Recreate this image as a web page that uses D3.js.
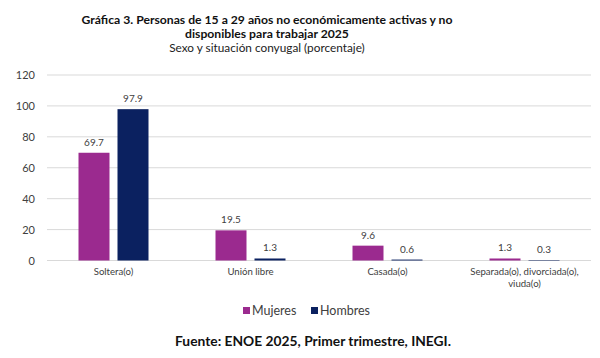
<!DOCTYPE html>
<html><head><meta charset="utf-8">
<script src="https://cdn.jsdelivr.net/npm/d3@7"></script>
<style>body{margin:0;background:#fff}svg{display:block}</style>
</head><body>
<svg id="c" width="600" height="358"></svg>
<script>
const categories = ["Soltera(o)", "Unión libre", "Casada(o)", "Separada(o), divorciada(o), viuda(o)"];
const categoryLines = [["Soltera(o)"], ["Unión libre"], ["Casada(o)"], ["Separada(o), divorciada(o),", "viuda(o)"]];
const seriesNames = ["Mujeres", "Hombres"];
const mujeres = [69.7, 19.5, 9.6, 1.3];
const hombres = [97.9, 1.3, 0.6, 0.3];
const yTicks = [0, 20, 40, 60, 80, 100, 120];
const colors = ["#9B2A8F", "#0B2160"];

const svg = d3.select("#c");
const font = "Lato, 'Open Sans', sans-serif";
const x = d3.scaleBand().domain(categories).range([45, 593]);
const y = d3.scaleLinear().domain([0, 120]).range([260.5, 75]);
const barW = 31, gap = 8;
const tcx = 267;

// title
svg.append("text").attr("x", tcx).attr("y", 24).attr("text-anchor", "middle")
  .attr("font-family", font).attr("font-weight", "bold").attr("font-size", 12.2).attr("fill", "#111")
  .text("Gráfica 3. Personas de 15 a 29 años no económicamente activas y no");
svg.append("text").attr("x", tcx).attr("y", 37.5).attr("text-anchor", "middle")
  .attr("font-family", font).attr("font-weight", "bold").attr("font-size", 12.2).attr("fill", "#111")
  .text("disponibles para trabajar 2025");
svg.append("text").attr("x", tcx).attr("y", 52).attr("text-anchor", "middle")
  .attr("font-family", font).attr("font-size", 11.8).attr("fill", "#222")
  .text("Sexo y situación conyugal (porcentaje)");

// grid
svg.append("g").selectAll("line").data(yTicks).join("line")
  .attr("x1", 47).attr("x2", 591).attr("y1", d => y(d)).attr("y2", d => y(d))
  .attr("stroke", "#d9d9d9").attr("stroke-width", 1);
svg.append("g").selectAll("text").data(yTicks).join("text")
  .attr("x", 35).attr("y", d => y(d) + 4).attr("text-anchor", "end")
  .attr("font-family", font).attr("font-size", 11).attr("fill", "#404040").text(d => d);

const series = [mujeres, hombres];
series.forEach((vals, si) => {
  const off = si === 0 ? -gap/2 - barW : gap/2;
  const g = svg.append("g");
  g.selectAll("rect").data(vals).join("rect")
    .attr("x", (d, i) => x(categories[i]) + x.bandwidth()/2 + off)
    .attr("y", d => y(d)).attr("width", barW).attr("height", d => y(0) - y(d))
    .attr("fill", colors[si]);
  g.selectAll("text").data(vals).join("text")
    .attr("x", (d, i) => x(categories[i]) + x.bandwidth()/2 + off + barW/2)
    .attr("y", d => y(d) - 7).attr("text-anchor", "middle")
    .attr("font-family", font).attr("font-size", 10).attr("fill", "#404040")
    .text(d => d.toFixed(1));
});

// category labels
categories.forEach((c, i) => {
  const t = svg.append("text").attr("x", x(c) + x.bandwidth()/2).attr("y", 275)
    .attr("text-anchor", "middle").attr("font-family", font).attr("font-size", 9.6).attr("fill", "#404040");
  categoryLines[i].forEach((l, j) => t.append("tspan").attr("x", x(c) + x.bandwidth()/2).attr("dy", j ? 12 : 0).text(l));
});

// legend
const leg = [[243, 252], [311, 320]];
seriesNames.forEach((n, i) => {
  svg.append("rect").attr("x", leg[i][0]).attr("y", 307).attr("width", 7).attr("height", 7).attr("fill", colors[i]);
  svg.append("text").attr("x", leg[i][1]).attr("y", 315).attr("font-family", font).attr("font-size", 12.5)
    .attr("fill", "#404040").text(n);
});

// source
svg.append("text").attr("x", 313).attr("y", 346).attr("text-anchor", "middle")
  .attr("font-family", font).attr("font-weight", "bold").attr("font-size", 13.8).attr("fill", "#111")
  .text("Fuente: ENOE 2025, Primer trimestre, INEGI.");
</script>
</body></html>
